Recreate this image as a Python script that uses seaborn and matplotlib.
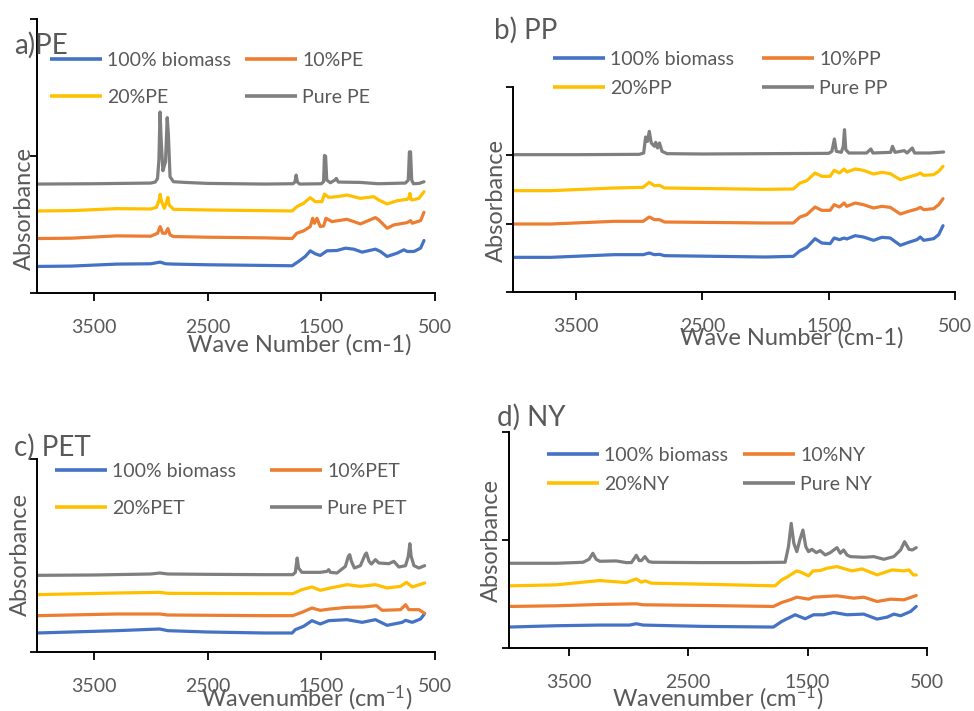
import matplotlib
matplotlib.use("Agg")
import matplotlib.pyplot as plt
from matplotlib.lines import Line2D
import pandas as pd
import seaborn as sns

sns.set_style("ticks")
plt.rcParams["font.family"] = ["Lato", "DejaVu Sans"]
plt.rcParams["mathtext.fontset"] = "custom"
plt.rcParams["mathtext.rm"] = "Lato"
plt.rcParams["mathtext.it"] = "Lato:italic"
plt.rcParams["mathtext.bf"] = "Lato:bold"

W, H, DPI = 974, 711, 100
TEXT = "#595959"
COLORS = ["#4472C4", "#ED7D31", "#FFC000", "#7F7F7F"]

# ---------------- a) PE ----------------
pe_wn_bio = [4000, 3700, 3300, 3000, 2917, 2870, 2800, 2500, 2000, 1756, 1700, 1641, 1597, 1553, 1509,
             1450, 1362, 1288, 1215, 1141, 1024, 980, 921, 833, 774, 744, 685, 627, 597]
pe_abs_bio = [0.80, 0.81, 0.87, 0.88, 0.93, 0.88, 0.87, 0.85, 0.83, 0.82, 0.95, 1.10, 1.27, 1.18, 1.13,
              1.27, 1.28, 1.35, 1.32, 1.23, 1.32, 1.25, 1.10, 1.20, 1.30, 1.25, 1.25, 1.35, 1.58]
pe_wn_10 = [4000, 3700, 3300, 3000, 2940, 2917, 2895, 2870, 2849, 2830, 2800, 2500, 2000, 1756, 1715,
            1656, 1597, 1576, 1560, 1538, 1509, 1479, 1459, 1406, 1274, 1156, 1024, 994, 921, 862,
            744, 715, 700, 627, 597]
pe_abs_10 = [1.64, 1.65, 1.72, 1.71, 1.80, 2.00, 1.80, 1.80, 1.94, 1.75, 1.70, 1.68, 1.66, 1.64, 1.80,
             1.87, 2.00, 2.25, 2.10, 2.25, 2.00, 2.02, 2.25, 2.15, 2.22, 2.08, 2.27, 2.20, 1.95, 2.05,
             2.12, 2.18, 2.10, 2.18, 2.43]
pe_wn_20 = [4000, 3700, 3300, 3000, 2950, 2925, 2917, 2905, 2880, 2860, 2849, 2838, 2800, 2500, 2000,
            1756, 1715, 1656, 1597, 1553, 1494, 1472, 1435, 1362, 1274, 1156, 1038, 994, 921, 833,
            744, 725, 721, 712, 700, 641, 597]
pe_abs_20 = [2.47, 2.48, 2.54, 2.53, 2.58, 2.80, 2.97, 2.75, 2.55, 2.75, 2.88, 2.65, 2.52, 2.50, 2.48,
             2.47, 2.60, 2.70, 2.87, 2.75, 2.75, 2.98, 2.88, 2.90, 2.95, 2.85, 2.90, 2.80, 2.68, 2.78,
             2.82, 2.90, 3.00, 2.82, 2.80, 2.85, 3.05]
pe_wn_pure = [4000, 3500, 3000, 2960, 2940, 2928, 2918, 2908, 2893, 2870, 2855, 2845, 2830, 2800, 2700,
              2500, 2000, 1750, 1732, 1721, 1710, 1690, 1500, 1480, 1472, 1462, 1452, 1420, 1380, 1368,
              1350, 1160, 1000, 760, 735, 725, 715, 705, 690, 640, 597]
pe_abs_pure = [3.28, 3.29, 3.31, 3.34, 3.45, 4.00, 5.45, 4.60, 3.68, 3.95, 5.28, 4.80, 3.50, 3.35, 3.33,
               3.30, 3.28, 3.29, 3.34, 3.55, 3.34, 3.28, 3.29, 3.35, 4.14, 4.12, 3.40, 3.32, 3.40, 3.45,
               3.34, 3.33, 3.29, 3.31, 3.40, 4.25, 4.25, 3.40, 3.29, 3.30, 3.35]

# ---------------- b) PP ----------------
pp_wn_bio = [4000, 3700, 3200, 2970, 2921, 2880, 2840, 2800, 2000, 1780, 1727, 1674, 1608, 1555, 1489,
             1457, 1415, 1378, 1357, 1291, 1225, 1145, 1079, 1013, 933, 867, 801, 775, 748, 669, 629, 595]
pp_abs_bio = [1.04, 1.04, 1.12, 1.12, 1.17, 1.12, 1.13, 1.09, 1.05, 1.07, 1.24, 1.34, 1.60, 1.47, 1.45,
              1.62, 1.57, 1.62, 1.59, 1.69, 1.65, 1.55, 1.64, 1.62, 1.40, 1.49, 1.57, 1.65, 1.55, 1.60,
              1.72, 1.99]
pp_wn_10 = [4000, 3700, 3200, 2970, 2921, 2880, 2840, 2800, 2000, 1780, 1727, 1674, 1608, 1555, 1489,
            1457, 1415, 1378, 1357, 1291, 1225, 1145, 1079, 1013, 933, 867, 801, 775, 748, 669, 629, 595]
pp_abs_10 = [2.04, 2.04, 2.12, 2.12, 2.25, 2.17, 2.17, 2.10, 2.07, 2.07, 2.25, 2.32, 2.55, 2.45, 2.45,
             2.62, 2.55, 2.67, 2.57, 2.67, 2.62, 2.52, 2.57, 2.54, 2.34, 2.42, 2.49, 2.54, 2.47, 2.50,
             2.62, 2.80]
pp_wn_20 = [4000, 3700, 3200, 2970, 2921, 2880, 2840, 2800, 2000, 1780, 1727, 1674, 1608, 1555, 1489,
            1457, 1415, 1378, 1357, 1291, 1225, 1145, 1079, 1013, 933, 867, 801, 775, 748, 669, 629, 595]
pp_abs_20 = [3.04, 3.04, 3.12, 3.14, 3.29, 3.19, 3.20, 3.12, 3.08, 3.09, 3.27, 3.34, 3.57, 3.47, 3.47,
             3.65, 3.57, 3.69, 3.60, 3.69, 3.65, 3.54, 3.59, 3.55, 3.37, 3.45, 3.52, 3.57, 3.50, 3.52,
             3.62, 3.77]
pp_wn_pure = [4000, 3500, 3000, 2965, 2950, 2935, 2921, 2905, 2880, 2870, 2855, 2840, 2820, 2780, 2500,
              2000, 1500, 1475, 1455, 1440, 1400, 1385, 1375, 1365, 1340, 1200, 1166, 1150, 1010, 995,
              975, 902, 880, 838, 820, 700, 590]
pp_abs_pure = [4.12, 4.12, 4.13, 4.17, 4.65, 4.52, 4.82, 4.47, 4.37, 4.49, 4.32, 4.47, 4.22, 4.15, 4.14,
               4.15, 4.16, 4.22, 4.59, 4.22, 4.19, 4.37, 4.87, 4.27, 4.17, 4.17, 4.29, 4.17, 4.19, 4.37,
               4.19, 4.24, 4.17, 4.32, 4.17, 4.17, 4.20]

# ---------------- c) PET ----------------
pet_wn_bio = [4000, 3300, 2920, 2850, 2500, 2000, 1756, 1729, 1656, 1582, 1509, 1435, 1274, 1141, 1024,
              921, 788, 759, 700, 627, 591]
pet_abs_bio = [0.57, 0.64, 0.69, 0.64, 0.60, 0.57, 0.57, 0.67, 0.77, 0.94, 0.84, 0.94, 0.97, 0.89, 0.97,
               0.80, 0.89, 0.95, 0.89, 0.99, 1.15]
pet_wn_10 = [4000, 3300, 2920, 2850, 2000, 1750, 1671, 1582, 1509, 1421, 1274, 1127, 1015, 965, 803,
             759, 730, 641, 591]
pet_abs_10 = [1.09, 1.14, 1.14, 1.11, 1.09, 1.09, 1.19, 1.32, 1.25, 1.29, 1.34, 1.35, 1.39, 1.25, 1.27,
              1.42, 1.27, 1.27, 1.16]
pet_wn_20 = [4000, 3300, 2920, 2850, 2000, 1750, 1671, 1582, 1509, 1421, 1274, 1156, 1024, 921, 803,
             750, 700, 591]
pet_abs_20 = [1.72, 1.77, 1.79, 1.76, 1.75, 1.75, 1.87, 1.95, 1.85, 1.92, 2.02, 1.97, 2.02, 1.92, 1.97,
              2.09, 1.95, 2.07]
pet_wn_pure = [4000, 3500, 3000, 2920, 2850, 2500, 2000, 1750, 1728, 1712, 1700, 1671, 1509, 1450, 1435,
               1420, 1362, 1288, 1262, 1250, 1235, 1209, 1156, 1115, 1103, 1080, 1059, 1024, 994, 906,
               862, 818, 759, 735, 721, 710, 685, 641, 591]
pet_abs_pure = [2.30, 2.31, 2.34, 2.37, 2.34, 2.33, 2.32, 2.32, 2.39, 2.82, 2.52, 2.39, 2.39, 2.42, 2.47,
                2.39, 2.37, 2.57, 2.87, 2.92, 2.72, 2.52, 2.59, 2.92, 2.97, 2.72, 2.64, 2.77, 2.67, 2.65,
                2.72, 2.55, 2.59, 2.87, 3.25, 2.87, 2.59, 2.52, 2.59]

# ---------------- d) NY ----------------
ny_wn_bio = [4000, 3606, 3242, 2990, 2934, 2878, 2374, 1786, 1716, 1604, 1520, 1450, 1366, 1282, 1170,
             1030, 918, 833, 777, 721, 637, 590]
ny_abs_bio = [0.63, 0.67, 0.69, 0.69, 0.73, 0.69, 0.65, 0.63, 0.80, 1.00, 0.88, 1.00, 1.00, 1.07, 1.00,
              1.02, 0.87, 0.93, 1.02, 0.97, 1.10, 1.25]
ny_wn_10 = [4000, 3606, 3242, 2934, 2878, 2374, 1786, 1716, 1646, 1590, 1492, 1450, 1254, 1114, 1030,
            918, 806, 694, 590]
ny_abs_10 = [1.25, 1.27, 1.31, 1.33, 1.30, 1.28, 1.25, 1.37, 1.45, 1.53, 1.47, 1.53, 1.57, 1.50, 1.53,
             1.40, 1.47, 1.45, 1.58]
ny_wn_20 = [4000, 3606, 3242, 3018, 2934, 2892, 2859, 2808, 2374, 1772, 1716, 1674, 1590, 1548, 1492,
            1455, 1394, 1338, 1254, 1128, 1044, 918, 792, 694, 651, 615, 590]
ny_abs_20 = [1.87, 1.90, 2.03, 1.97, 2.08, 1.98, 2.02, 1.95, 1.92, 1.87, 2.05, 2.13, 2.32, 2.27, 2.17,
             2.32, 2.33, 2.40, 2.45, 2.32, 2.38, 2.20, 2.35, 2.32, 2.35, 2.20, 2.20]
ny_wn_pure = [4000, 3600, 3380, 3330, 3298, 3270, 3240, 3102, 3018, 2975, 2934, 2910, 2892, 2862, 2830,
              2800, 2400, 2000, 1688, 1660, 1637, 1615, 1590, 1565, 1539, 1515, 1492, 1464, 1427, 1394,
              1352, 1310, 1254, 1226, 1198, 1170, 1142, 1030, 946, 862, 778, 721, 688, 651, 623, 590]
ny_abs_pure = [2.55, 2.55, 2.58, 2.67, 2.85, 2.67, 2.61, 2.62, 2.57, 2.57, 2.79, 2.63, 2.63, 2.75, 2.60,
               2.58, 2.57, 2.57, 2.58, 3.05, 3.75, 3.15, 2.90, 3.25, 3.55, 3.05, 2.90, 2.97, 2.87, 2.93,
               2.80, 2.87, 3.02, 2.85, 2.95, 2.80, 2.75, 2.73, 2.75, 2.67, 2.75, 2.95, 3.20, 2.97, 2.95,
               3.02]

panels = [
    dict(key="PE", title="a)PE", rect=(37, 19, 435, 293), ylim=8.25, yticks=[0, 4.125, 8.25],
         title_xy=(14, 45), xlabel="Wave Number (cm-1)", xlabel_xy=(300, 345), ylabel_xy=(24, 208),
         leg_y=(58, 100), leg_x=(50, 245),
         series=[(pe_wn_bio, pe_abs_bio), (pe_wn_10, pe_abs_10), (pe_wn_20, pe_abs_20), (pe_wn_pure, pe_abs_pure)]),
    dict(key="PP", title="b) PP", rect=(513, 87, 955, 292), ylim=6.15, yticks=[0, 2.05, 4.10, 6.15],
         title_xy=(494, 30), xlabel="Wave Number (cm-1)", xlabel_xy=(792, 338), ylabel_xy=(496, 200),
         leg_y=(57, 91), leg_x=(553, 762),
         series=[(pp_wn_bio, pp_abs_bio), (pp_wn_10, pp_abs_10), (pp_wn_20, pp_abs_20), (pp_wn_pure, pp_abs_pure)]),
    dict(key="PET", title="c) PET", rect=(37, 459, 435, 652), ylim=5.79, yticks=[0, 5.79],
         title_xy=(14, 447), xlabel="Wavenumber (cm$^{-1}$)", xlabel_xy=(307, 698), ylabel_xy=(20, 555),
         leg_y=(469, 511), leg_x=(55, 270),
         series=[(pet_wn_bio, pet_abs_bio), (pet_wn_10, pet_abs_10), (pet_wn_20, pet_abs_20), (pet_wn_pure, pet_abs_pure)]),
    dict(key="NY", title="d) NY", rect=(509, 432, 927, 648), ylim=6.5, yticks=[0, 3.25, 6.5],
         title_xy=(497, 417), xlabel="Wavenumber (cm$^{-1}$)", xlabel_xy=(718, 698), ylabel_xy=(491, 541),
         leg_y=(453, 487), leg_x=(547, 743),
         series=[(ny_wn_bio, ny_abs_bio), (ny_wn_10, ny_abs_10), (ny_wn_20, ny_abs_20), (ny_wn_pure, ny_abs_pure)]),
]

fig = plt.figure(figsize=(W / DPI, H / DPI), dpi=DPI)


def fx(x):
    return x / W


def fy(y):
    return 1 - y / H


for p in panels:
    l, t, r, b = p["rect"]
    ax = fig.add_axes([fx(l), fy(b), (r - l) / W, (b - t) / H])
    names = ["100% biomass", f"10%{p['key']}", f"20%{p['key']}", f"Pure {p['key']}"]
    frames = []
    for name, (wn, ab) in zip(names, p["series"]):
        frames.append(pd.DataFrame({"wavenumber": wn, "absorbance": ab, "sample": name}))
    df = pd.concat(frames, ignore_index=True)
    sns.lineplot(data=df, x="wavenumber", y="absorbance", hue="sample", hue_order=names,
                 palette=COLORS, estimator=None, sort=False, linewidth=2.3, legend=False, ax=ax)
    for ln in ax.lines:
        ln.set_solid_joinstyle("round")
        ln.set_solid_capstyle("round")

    ax.set_xlim(4000, 500)
    ax.set_xticks([3500, 2500, 1500, 500])
    ax.set_ylim(0, p["ylim"])
    ax.set_yticks(p["yticks"])
    ax.set_yticklabels([])
    for side in ("top", "right"):
        ax.spines[side].set_visible(False)
    for side in ("left", "bottom"):
        ax.spines[side].set_color("black")
        ax.spines[side].set_linewidth(1.4)
    ax.tick_params(axis="x", direction="out", length=5.5, width=1.3, color="black",
                   labelsize=14, labelcolor=TEXT, pad=13)
    ax.tick_params(axis="y", direction="out", length=5.0, width=1.3, color="black")

    ax.set_xlabel(p["xlabel"], fontsize=17, color=TEXT)
    ax.xaxis.label.set_va("center")
    ax.xaxis.set_label_coords(fx(p["xlabel_xy"][0]), fy(p["xlabel_xy"][1]), transform=fig.transFigure)
    ax.set_ylabel("Absorbance", fontsize=17, color=TEXT)
    ax.yaxis.label.set_va("center")
    ax.yaxis.set_label_coords(fx(p["ylabel_xy"][0]), fy(p["ylabel_xy"][1]), transform=fig.transFigure)

    ax.text(fx(p["title_xy"][0]), fy(p["title_xy"][1]), p["title"], transform=fig.transFigure,
            ha="left", va="center", fontsize=20, color=TEXT)

    handles = [Line2D([], [], color=c, linewidth=2.6, solid_capstyle="butt") for c in COLORS]
    ymid = (p["leg_y"][0] + p["leg_y"][1]) / 2
    gap = p["leg_y"][1] - p["leg_y"][0]
    fs_pt = 14
    fs_px = fs_pt * DPI / 72
    for col, idx in enumerate([(0, 2), (1, 3)]):
        fig.legend([handles[i] for i in idx], [names[i] for i in idx],
                   loc="center left", bbox_to_anchor=(fx(p["leg_x"][col]), fy(ymid)),
                   bbox_transform=fig.transFigure, frameon=False, fontsize=fs_pt,
                   borderpad=0, borderaxespad=0, handlelength=52 / fs_px,
                   handletextpad=5 / fs_px, labelspacing=(gap - 1.15 * fs_px) / fs_px,
                   labelcolor=TEXT)

fig.savefig("out.png", dpi=DPI)
